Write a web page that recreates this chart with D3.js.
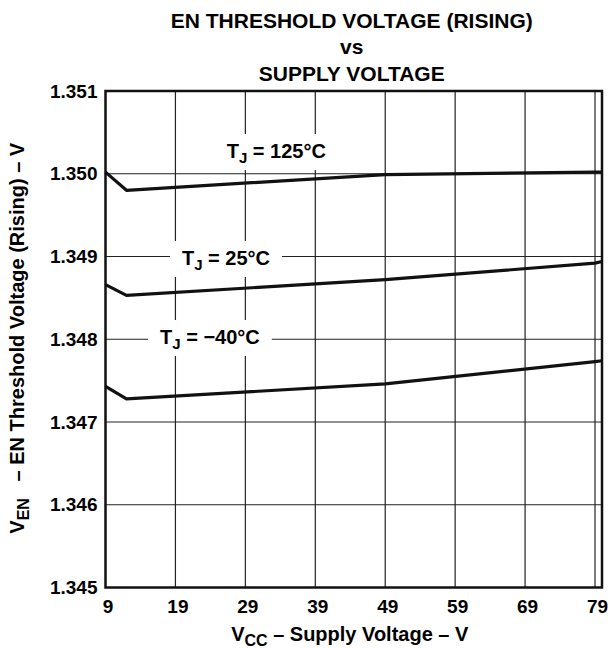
<!DOCTYPE html>
<html>
<head>
<meta charset="utf-8">
<script src="https://cdn.jsdelivr.net/npm/d3@7"></script>
<style>
  html, body { margin: 0; padding: 0; background: #fff; }
  svg { display: block; font-family: "Liberation Sans", Arial, sans-serif; font-weight: bold; }
</style>
</head>
<body>
<svg id="chart" width="611" height="648"></svg>
<script>
// ---- data ----
const vcc = [9, 12, 49, 79, 80];
const tj125 = [1.35002, 1.34980, 1.34999, 1.35002, 1.35002];
const tj25  = [1.34866, 1.34853, 1.34872, 1.34892, 1.34894];
const tjm40 = [1.34743, 1.34728, 1.34746, 1.34773, 1.34774];
const xTicks = [9, 19, 29, 39, 49, 59, 69, 79];
const yTicks = [1.345, 1.346, 1.347, 1.348, 1.349, 1.350, 1.351];
const seriesLabels = [
  { main: "T", sub: "J", rest: " = 125°C", vx: 26.34, vy: 1.350275 },
  { main: "T", sub: "J", rest: " = 25°C", vx: 19.94, vy: 1.348982 },
  { main: "T", sub: "J", rest: " = \u221240°C", vx: 16.8, vy: 1.348027 }
];
const titleLines = ["EN THRESHOLD VOLTAGE (RISING)", "vs", "SUPPLY VOLTAGE"];

// ---- layout ----
const svg = d3.select("#chart");
const L = 105.5, R = 602, T = 91, B = 587.5;
const x = d3.scaleLinear().domain([9, 80]).range([L, R]);
const y = d3.scaleLinear().domain([1.345, 1.351]).range([B, T]);
const FONT = "Liberation Sans, Arial, sans-serif";

// gridlines
const grid = svg.append("g");
grid.selectAll("line.v").data(xTicks.slice(1)).enter().append("line")
  .attr("x1", d => x(d)).attr("x2", d => x(d)).attr("y1", T).attr("y2", B)
  .attr("stroke", "#222").attr("stroke-width", 1.2);
grid.selectAll("line.h").data(yTicks.slice(1, -1)).enter().append("line")
  .attr("y1", d => y(d)).attr("y2", d => y(d)).attr("x1", L).attr("x2", R)
  .attr("stroke", "#222").attr("stroke-width", 1.2);

// series labels with white background (break the grid)
const labG = svg.append("g");
seriesLabels.forEach(s => {
  const g = labG.append("g");
  const t = g.append("text")
    .attr("x", x(s.vx)).attr("y", y(s.vy) + 7)
    .attr("text-anchor", "start").attr("font-size", 20).attr("fill", "#000");
  t.append("tspan").text(s.main);
  t.append("tspan").attr("font-size", 15).attr("dy", 5).text(s.sub);
  t.append("tspan").attr("dy", -5).text(s.rest);
  const bb = t.node().getBBox();
  g.insert("rect", "text")
    .attr("x", bb.x - 12).attr("y", bb.y - 6)
    .attr("width", bb.width + 24).attr("height", bb.height + 10)
    .attr("fill", "#fff");
});

// curves
const line = d3.line().x((d, i) => x(vcc[i])).y(d => y(d));
[tj125, tj25, tjm40].forEach(s => {
  svg.append("path").datum(s).attr("d", line)
    .attr("fill", "none").attr("stroke", "#111").attr("stroke-width", 3.2)
    .attr("stroke-linejoin", "round");
});

// frame
svg.append("rect").attr("x", L).attr("y", T).attr("width", R - L).attr("height", B - T)
  .attr("fill", "none").attr("stroke", "#111").attr("stroke-width", 2.5);

// axes (labels only)
const xAxis = d3.axisBottom(x).tickValues(xTicks).tickSize(0).tickPadding(12).tickFormat(d3.format("d"));
const gx = svg.append("g").attr("transform", `translate(0,${B})`).call(xAxis);
gx.select(".domain").remove();
gx.selectAll("text").attr("font-size", 19).attr("font-family", FONT)
  .attr("font-weight", "bold").attr("fill", "#000").attr("dx", 2);

const yAxis = d3.axisLeft(y).tickValues(yTicks).tickSize(0).tickPadding(8).tickFormat(d3.format(".3f"));
const gy = svg.append("g").attr("transform", `translate(${L},0)`).call(yAxis);
gy.select(".domain").remove();
gy.selectAll("text").attr("font-size", 19).attr("font-family", FONT)
  .attr("font-weight", "bold").attr("fill", "#000");

// title
const cx = (L + R) / 2;
svg.selectAll("text.title").data(titleLines).enter().append("text")
  .attr("class", "title")
  .attr("x", cx - 2).attr("y", (d, i) => 27.5 + i * 26.5)
  .attr("text-anchor", "middle").attr("font-size", 21).attr("fill", "#000")
  .text(d => d);

// x axis title
const xt = svg.append("text").attr("x", cx - 4).attr("y", 641)
  .attr("text-anchor", "middle").attr("font-size", 20).attr("fill", "#000");
xt.append("tspan").text("V");
xt.append("tspan").attr("font-size", 16).attr("dy", 5).text("CC");
xt.append("tspan").attr("dy", -5).text(" \u2013 Supply Voltage \u2013 V");

// y axis title
const yt = svg.append("text")
  .attr("transform", `translate(24,${(T + B) / 2 - 1}) rotate(-90)`)
  .attr("text-anchor", "middle").attr("font-size", 20).attr("fill", "#000");
yt.append("tspan").text("V");
yt.append("tspan").attr("font-size", 16).attr("dy", 5).text("EN");
yt.append("tspan").attr("dy", -5).text("\u00a0\u00a0\u00a0\u2013 EN Threshold Voltage (Rising) \u2013 V");
</script>
</body>
</html>
